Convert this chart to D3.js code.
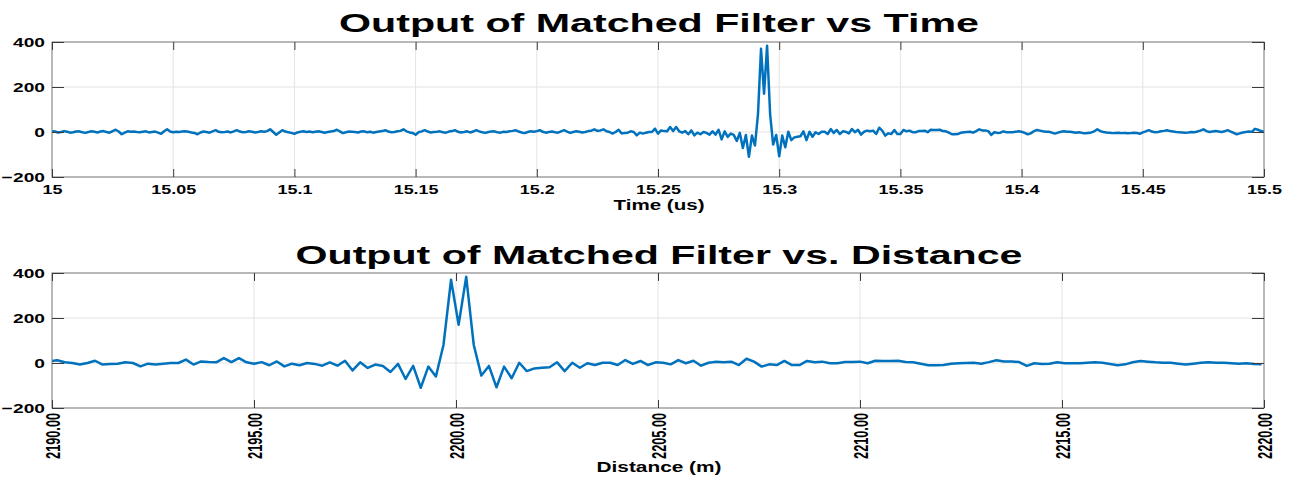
<!DOCTYPE html>
<html>
<head>
<meta charset="utf-8">
<script src="https://cdn.jsdelivr.net/npm/d3@7/dist/d3.min.js"></script>
<style>
body { margin: 0; background: #fff; }
text { font-family: "Liberation Sans", Arial, sans-serif; font-weight: bold; fill: #000; }
</style>
</head>
<body>
<svg></svg>
<script>
// sampling of the matched filter output (800 MHz -> 1.25 ns, 0.1875 m per sample)
var timeStart = 15, timeStep = 0.00125;
var rangeStart = 2189.94, rangeStep = 0.1875;

// output around the target, shared by both plots (161 samples)
var rangeWindow = [
    7, 12, 3, 0, -7, 0, 10, -7, -4, -3,
    3, 0, -15, -3, -7, -3, 0, 0, 15, -7,
    7, 4, 3, 22, 4, 22, 3, -3, 4, -10,
    7, -15, -3, -10, 0, -4, -12, 3, -12, 10,
    -33, 3, -22, -7, -13, -40, -4, -71, -13, -110,
    -16, -60, 80, 370, 170, 383, 80, -56, -13, -108,
    -16, -68, 1, -36, -24, -21, -19, 3, -36, 1,
    -21, -1, -9, 1, 1, -9, 13, -4, 9, -9,
    3, 1, -6, 13, -1, 10, -12, 1, 6, 3,
    6, -9, 19, 6, -16, -6, -9, 9, -9, -9,
    9, 3, 6, -1, -1, 4, 4, 6, -1, 10,
    9, 9, 10, 4, 3, -3, -10, -10, -9, -3,
    -1, 0, 1, -3, 4, 12, 7, 7, 4, -13,
    -1, -4, -3, 3, -1, -1, -1, 1, 3, 1,
    -4, -10, -6, 3, 9, 6, 3, 1, 1, -3,
    -7, -3, 1, 3, 1, 1, -1, -3, -1, -4,
    -6
];

// time plot, samples before the window (181)
var timeLead = [
    3, 2, -2, 0, 4, 1, -3, -1, 2, 3,
    -1, -4, 0, 3, 1, -2, 2, 4, 0, -3,
    4, 10, 2, -10, -3, 3, 1, 2, 0, -1,
    1, 3, -2, 0, 2, -3, -8, 3, 12, 2,
    -1, 1, 0, 2, 3, 1, -2, -4, -10, -2,
    2, 0, -3, 3, 8, 1, -1, 0, 2, -2,
    3, 8, 2, -1, 0, 3, 1, -2, 0, 3,
    1, 4, 12, 0, -12, -2, 8, 2, -1, -4,
    -8, -2, 1, 3, 0, 2, -1, 1, 3, 0,
    -3, 0, 2, 4, 10, 3, -5, -1, 2, 1,
    0, -2, 2, 3, -1, 1, -3, 0, 2, 4,
    8, 2, -1, 0, 3, 5, 12, 3, -2, -4,
    -12, -1, 3, 8, 2, -2, 0, 1, 3, -1,
    -3, 2, 4, 8, 1, -2, 0, 3, -2, 2,
    8, 3, -1, -4, 0, 2, 3, -1, -3, 1,
    0, 3, 5, 8, 2, -2, -5, 0, 3, 1,
    4, 8, 1, -3, 0, 2, -1, -3, 3, 8,
    2, -4, 0, 3, 1, -2, 0, 4, 6, 12,
    5
];

// time plot, samples after the window (59)
var timeTail = [
    -4, -2, 3, 12, 4, 0, -2, -3, -5, -4,
    -3, -5, -4, -6, -5, -3, -4, -8, -2, 3,
    8, 2, -1, 0, 3, 5, 8, 4, 2, 0,
    -1, -2, -3, -2, 0, -1, 2, 6, 12, 4,
    0, 2, 4, 2, 0, 3, 8, 2, -4, -10,
    -6, -2, 0, 2, 1, 14, 10, 4, 2
];

var yTicks = [-200, 0, 200, 400];
var timeTicks = [15, 15.05, 15.1, 15.15, 15.2, 15.25, 15.3, 15.35, 15.4, 15.45, 15.5];
var rangeTicks = [2190, 2195, 2200, 2205, 2210, 2215, 2220];

var timeValues = timeLead.concat(rangeWindow, timeTail);

var W = 1291, H = 478;
var svg = d3.select("svg").attr("width", W).attr("height", H);
var left = 52, right = 1264;

drawPanel({
    id: "t", top: 42, bottom: 177,
    domain: [15, 15.5], start: timeStart, step: timeStep, values: timeValues,
    ticks: timeTicks, fmt: function (d) { return d3.format("~g")(d); },
    title: "Output of Matched Filter vs Time", titleY: 31.5, titleW: 640,
    xlabel: "Time (us)", xlabelY: 210, xlabelW: 91,
    rotate: false
});

drawPanel({
    id: "r", top: 273, bottom: 408,
    domain: [2190, 2220], start: rangeStart, step: rangeStep, values: rangeWindow,
    ticks: rangeTicks, fmt: d3.format(".2f"),
    title: "Output of Matched Filter vs. Distance", titleY: 263.5, titleW: 727,
    xlabel: "Distance (m)", xlabelY: 472, xlabelW: 125,
    rotate: true
});

function drawPanel(p) {
    var x = d3.scaleLinear().domain(p.domain).range([left, right]);
    var y = d3.scaleLinear().domain([-200, 400]).range([p.bottom, p.top]);
    var g = svg.append("g");

    // grid
    g.append("g").selectAll("line").data(p.ticks).enter().append("line")
        .attr("x1", function (d) { return x(d); }).attr("x2", function (d) { return x(d); })
        .attr("y1", p.top).attr("y2", p.bottom)
        .attr("stroke", "#e3e3e3").attr("stroke-width", 1);
    g.append("g").selectAll("line").data(yTicks).enter().append("line")
        .attr("x1", left).attr("x2", right)
        .attr("y1", function (d) { return y(d); }).attr("y2", function (d) { return y(d); })
        .attr("stroke", "#e3e3e3").attr("stroke-width", 1);

    // signal
    svg.append("clipPath").attr("id", "clip" + p.id).append("rect")
        .attr("x", left).attr("y", p.top - 2).attr("width", right - left).attr("height", p.bottom - p.top + 4);
    var line = d3.line()
        .x(function (d, i) { return x(p.start + i * p.step); })
        .y(function (d) { return y(d); });
    g.append("path").datum(p.values)
        .attr("clip-path", "url(#clip" + p.id + ")")
        .attr("fill", "none")
        .attr("stroke", "#0072BD")
        .attr("stroke-width", 2.5)
        .attr("stroke-linejoin", "round")
        .attr("d", line);

    // box
    g.append("rect").attr("x", left).attr("y", p.top)
        .attr("width", right - left).attr("height", p.bottom - p.top)
        .attr("fill", "none").attr("stroke", "#808080").attr("stroke-width", 1);

    // axes with inner ticks
    var xb = g.append("g").attr("transform", "translate(0," + p.bottom + ")")
        .call(d3.axisBottom(x).tickValues(p.ticks).tickFormat(p.fmt).tickSizeInner(-8).tickSizeOuter(0).tickPadding(0));
    var xt = g.append("g").attr("transform", "translate(0," + p.top + ")")
        .call(d3.axisTop(x).tickValues(p.ticks).tickFormat("").tickSizeInner(-8).tickSizeOuter(0));
    var yl = g.append("g").attr("transform", "translate(" + left + ",0)")
        .call(d3.axisLeft(y).tickValues(yTicks).tickSizeInner(-12).tickSizeOuter(0).tickPadding(0));
    var yr = g.append("g").attr("transform", "translate(" + right + ",0)")
        .call(d3.axisRight(y).tickValues(yTicks).tickFormat("").tickSizeInner(-12).tickSizeOuter(0));

    [xb, xt, yl, yr].forEach(function (a) {
        a.select(".domain").remove();
        a.selectAll(".tick line").attr("stroke", "#3a3a3a");
        a.selectAll("text").attr("font-family", null).attr("font-size", null);
    });

    yl.selectAll(".tick text")
        .attr("x", 0).attr("dy", "0.36em")
        .style("font-size", "13.5px")
        .attr("transform", "translate(-7,0) scale(1.42,1)");

    if (p.rotate) {
        xb.selectAll(".tick text")
            .attr("y", 0).attr("x", 0).attr("dy", "0.36em")
            .attr("text-anchor", "end")
            .style("font-size", "12.7px")
            .attr("transform", "translate(0,5) scale(1.65,1) rotate(-90)");
    } else {
        xb.selectAll(".tick text")
            .attr("y", 0).attr("dy", "0.71em")
            .style("font-size", "13.5px")
            .attr("transform", "translate(0,7.5) scale(1.33,1)");
    }

    // labels
    g.append("text").attr("x", (left + right) / 2 + 1).attr("y", p.titleY)
        .attr("text-anchor", "middle").style("font-size", "25px")
        .attr("textLength", p.titleW).attr("lengthAdjust", "spacingAndGlyphs")
        .text(p.title);
    g.append("text").attr("x", (left + right) / 2 + 1).attr("y", p.xlabelY)
        .attr("text-anchor", "middle").style("font-size", "15px")
        .attr("textLength", p.xlabelW).attr("lengthAdjust", "spacingAndGlyphs")
        .text(p.xlabel);
}
</script>
</body>
</html>
